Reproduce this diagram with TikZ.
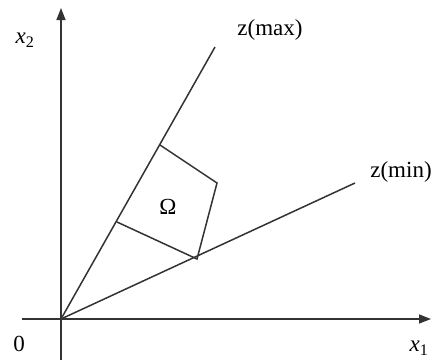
\documentclass[tikz,border=0pt]{standalone}
\usepackage{fontspec}
\setmainfont{Liberation Serif}
\usetikzlibrary{arrows.meta}
\tikzset{
  ln/.style={draw=black!80, line width=1.5pt},
  ax/.style={ln, -{Triangle[length=12pt,width=9pt]}},
  lbl/.style={font=\fontsize{23}{23}\selectfont, inner sep=0pt},
}
\begin{document}
\begin{tikzpicture}[x=1pt,y=-1pt]
\useasboundingbox (0,0) rectangle (436,362);
\coordinate (O) at (61,319);
\coordinate (xs) at (22,319);
\coordinate (xe) at (431,319);
\coordinate (ys) at (61,360);
\coordinate (ye) at (61,8);
\coordinate (A) at (215,47);
\coordinate (B) at (355,183);
\coordinate (P1) at (160,145);
\coordinate (P2) at (217,183);
\coordinate (P3) at (197,259);
\coordinate (P4) at (117,222);
\draw[ax] (xs) -- (xe);
\draw[ax] (ys) -- (ye);
\draw[ln] (O) -- (A);
\draw[ln] (O) -- (B);
\draw[ln] (P1) -- (P2) -- (P3) -- (P4);
\node[lbl] (zmax) at (270,30) {z(max)};
\node[lbl] (zmin) at (401,172) {z(min)};
\node[lbl] (om) at (168,207) {Ω};
\node[lbl] (x2) at (25,40) {\textit{x}\textsubscript{2}};
\node[lbl] (x1) at (419,348) {\textit{x}\textsubscript{1}};
\node[lbl] (zero) at (19,344) {0};
\end{tikzpicture}
\end{document}
